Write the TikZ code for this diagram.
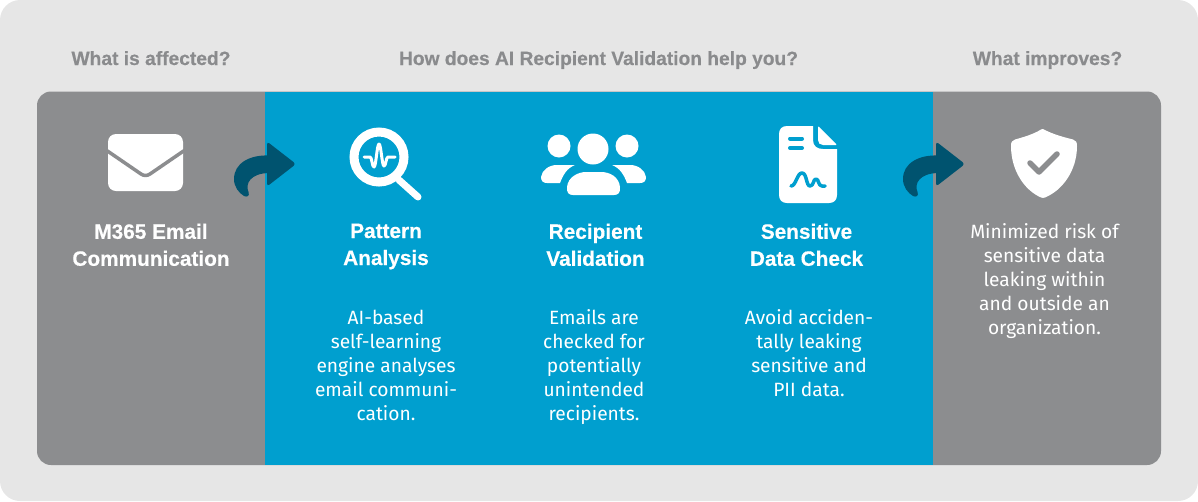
\documentclass[tikz,border=0pt]{standalone}
\usepackage{fontspec}
\setmainfont{Fira Sans}
\newfontfamily\headfont[BoldFeatures={FakeBold=0.4}]{Liberation Sans}
\definecolor{pagebg}{HTML}{E6E6E6}
\definecolor{panelgray}{HTML}{8C8D8F}
\definecolor{headgray}{HTML}{8A8B8D}
\definecolor{panelblue}{HTML}{009FCF}
\definecolor{arrowteal}{HTML}{00536F}
\tikzset{
  header/.style={text=headgray,font=\headfont\fontsize{19.2}{24}\selectfont\bfseries,inner sep=0pt,anchor=base},
  title/.style={text=white,font=\headfont\fontsize{20.8}{27}\selectfont\bfseries,inner sep=0pt,align=center,anchor=north},
  body/.style={text=white,font=\fontsize{19.2}{24}\selectfont,inner sep=0pt,align=center,anchor=north},
  turnarrow/.pic={
    \fill[arrowteal,rounded corners=3pt] (267,141.5) -- (296,164) -- (267,186.5) -- cycle;
    \fill[arrowteal] (270,155.5) .. controls (250,154.5) and (234,163) .. (234,179)
      .. controls (234,187) and (239,193) .. (244,196)
      .. controls (247,197.5) and (250,196) .. (248.5,192)
      .. controls (245,184) and (250,173) .. (270,173) -- cycle;
  }
}
\begin{document}
\begin{tikzpicture}[x=1pt,y=-1pt]
\useasboundingbox (0,0) rectangle (1198,501);
\fill[pagebg] (0,0) [rounded corners=20pt] rectangle (1198,501);
\fill[panelgray,rounded corners=14pt] (37,91.5) rectangle (1161,465);
\fill[panelblue] (265,91.5) rectangle (933,465);

\node[header] (h1) at (151,65) {What is affected?};
\node[header] (h2) at (598.5,65) {How does AI Recipient Validation help you?};
\node[header] (h3) at (1047.5,65) {What improves?};

% envelope
\fill[white,rounded corners=8pt] (108,134) rectangle (183,191);
\draw[panelgray,line width=3.5pt,line cap=round,line join=round] (106,150) -- (141,174) .. controls (144,176) and (147,176) .. (150,174) -- (185,150);

% arrows
\pic at (0,0) {turnarrow};
\pic at (669,0) {turnarrow};

% magnifier
\draw[white,line width=9pt] (379,157) circle (25);
\draw[white,line width=7pt,line cap=round] (399,180) -- (418,197);
\draw[white,line width=3pt,line cap=round,line join=round] (364,157) -- (370,157) .. controls (372,157) and (372,167) .. (374,167) .. controls (376,167) and (377,144) .. (379,144) .. controls (381,144) and (382,166) .. (384,166) .. controls (386,166) and (386,157) .. (388,157) -- (395,157);

% people
\fill[white] (593,149) circle (15.5);
\fill[white] (559,146) circle (11.5);
\fill[white] (627,146) circle (11.5);
\fill[white] (567,187) .. controls (568,177) and (578,172) .. (586,172) -- (601,172) .. controls (610,172) and (619,177) .. (620,187) .. controls (620.5,193) and (618,195) .. (614,195) -- (573,195) .. controls (569,195) and (566.5,193) .. (567,187) -- cycle;
\fill[white] (541,177) .. controls (542,170) and (549,165) .. (557,165) -- (575,165) .. controls (567,168) and (563,175) .. (560,183) -- (547,183) .. controls (543,183) and (541,181) .. (541,177) -- cycle;
\fill[white] (646,177) .. controls (645,170) and (638,165) .. (630,165) -- (612,165) .. controls (620,168) and (624,175) .. (627,183) -- (640,183) .. controls (644,183) and (646,181) .. (646,177) -- cycle;

% document
\fill[white] (787,126) -- (813,126) -- (813,140) .. controls (813,146) and (817,149) .. (823,149) -- (837,149) -- (837,195) .. controls (837,200) and (834,203) .. (829,203) -- (787,203) .. controls (782,203) and (779,200) .. (779,195) -- (779,134) .. controls (779,129) and (782,126) .. (787,126) -- cycle;
\fill[white,rounded corners=1pt] (818,126) -- (837,145) -- (824,145) .. controls (820,145) and (818,143) .. (818,139) -- cycle;
\draw[panelblue,line width=4pt,line cap=round] (790,138.5) -- (802,138.5) (790,148) -- (802,148);
\draw[panelblue,line width=3.5pt,line cap=round,line join=round] (791,186) .. controls (796,186) and (797,173) .. (802,173) .. controls (807,173) and (806,186) .. (810,186) .. controls (814,186) and (813,179) .. (816,179) .. controls (819,179) and (818,186) .. (822,186) -- (825,186);

% shield
\fill[white] (1043,129) .. controls (1052,134) and (1063,137) .. (1073,139.5) .. controls (1076,140.5) and (1077,142) .. (1077,146) .. controls (1077,170) and (1063,190) .. (1045,197.5) .. controls (1044,198) and (1042,198) .. (1041,197.5) .. controls (1024,190) and (1011,170) .. (1011,146) .. controls (1011,142) and (1012,140.5) .. (1015,139.5) .. controls (1024,137) and (1034,134) .. (1041,129.5) .. controls (1042,129) and (1043,129) .. (1043,129) -- cycle;
\draw[panelgray,line width=5.5pt,line cap=round,line join=round] (1030,163) -- (1039,172) -- (1057,154);

% texts
\node[title] (t1) at (151,223.5) {M365 Email\\Communication};
\node[title] (t2) at (386,223.5) {Pattern\\Analysis};
\node[title] (t3) at (595.5,223.5) {Recipient\\Validation};
\node[title] (t4) at (806.5,223.5) {Sensitive\\Data Check};
\node[body] (b1) at (386,309.5) {AI-based\\self-learning\\engine analyses\\email communi-\\cation.};
\node[body] (b2) at (594,309.5) {Emails are\\checked for\\potentially\\unintended\\recipients.};
\node[body] (b3) at (809,309.5) {Avoid acciden-\\tally leaking\\sensitive and\\PII data.};
\node[body] (b4) at (1044.5,223.5) {Minimized risk of\\sensitive data\\leaking within\\and outside an\\organization.};
\end{tikzpicture}
\end{document}
